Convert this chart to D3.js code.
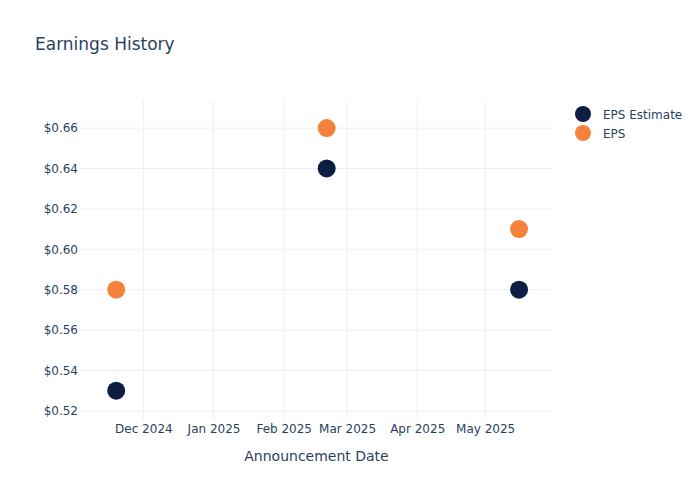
<!DOCTYPE html>
<html>
<head>
<meta charset="utf-8">
<script src="https://cdn.jsdelivr.net/npm/d3@7"></script>
<style>
  body { margin: 0; background: #fff; }
  text { font-family: "DejaVu Sans", Verdana, sans-serif; fill: #2a3f5f; }
</style>
</head>
<body>
<div id="chart"></div>
<script>
// ---------------------------------------------- DATA ----------------------------------------------
var dates = ["2024-11-19", "2025-02-20", "2025-05-16"];
var epsEstimate = [0.53, 0.64, 0.58];
var eps = [0.58, 0.66, 0.61];
var yTicks = [0.52, 0.54, 0.56, 0.58, 0.60, 0.62, 0.64, 0.66];
var xTicks = ["2024-12-01", "2025-01-01", "2025-02-01", "2025-03-01", "2025-04-01", "2025-05-01"];
var seriesNames = ["EPS Estimate", "EPS"];
var seriesColors = ["#0c1f42", "#f5823a"];

// ---------------------------------------------- SVG -----------------------------------------------
var width = 700;
var height = 500;
var margin = { top: 100, right: 147, bottom: 80, left: 80 };

var parse = d3.timeParse("%Y-%m-%d");

var svg = d3.select("#chart").append("svg")
    .attr("width", width)
    .attr("height", height);

var x = d3.scaleTime()
    .domain([parse("2024-11-03"), parse("2025-05-31")])
    .range([margin.left, width - margin.right]);

var y = d3.scaleLinear()
    .domain([0.5155, 0.6739])
    .range([height - margin.bottom, margin.top]);

// grid
svg.append("g")
    .selectAll("line")
    .data(yTicks)
    .enter().append("line")
    .attr("x1", margin.left)
    .attr("x2", width - margin.right)
    .attr("y1", function(d) { return y(d); })
    .attr("y2", function(d) { return y(d); })
    .attr("stroke", "#ebf0f8")
    .attr("stroke-width", 1);

svg.append("g")
    .selectAll("line")
    .data(xTicks)
    .enter().append("line")
    .attr("x1", function(d) { return x(parse(d)); })
    .attr("x2", function(d) { return x(parse(d)); })
    .attr("y1", margin.top)
    .attr("y2", height - margin.bottom)
    .attr("stroke", "#ebf0f8")
    .attr("stroke-width", 1);

// axes
var yAxis = d3.axisLeft(y)
    .tickValues(yTicks)
    .tickSize(0)
    .tickPadding(2)
    .tickFormat(d3.format("$.2f"));

svg.append("g")
    .attr("transform", "translate(" + margin.left + ",0)")
    .call(yAxis)
    .call(function(g) { g.select(".domain").remove(); })
    .selectAll("text")
    .style("font-size", "12px")
    .attr("fill", "#2a3f5f");

var xAxis = d3.axisBottom(x)
    .tickValues(xTicks.map(parse))
    .tickSize(0)
    .tickPadding(4)
    .tickFormat(d3.timeFormat("%b %Y"));

svg.append("g")
    .attr("transform", "translate(0," + (height - margin.bottom) + ")")
    .call(xAxis)
    .call(function(g) { g.select(".domain").remove(); })
    .selectAll("text")
    .style("font-size", "12px")
    .attr("fill", "#2a3f5f");

// titles
svg.append("text")
    .attr("x", 35)
    .attr("y", 50)
    .style("font-size", "17px")
    .text("Earnings History");

svg.append("text")
    .attr("x", (margin.left + width - margin.right) / 2)
    .attr("y", 461)
    .attr("text-anchor", "middle")
    .style("font-size", "14px")
    .text("Announcement Date");

// points
var series = [epsEstimate, eps];

series.forEach(function(values, i) {
    svg.append("g")
        .selectAll("circle")
        .data(values)
        .enter().append("circle")
        .attr("cx", function(d, j) { return x(parse(dates[j])); })
        .attr("cy", function(d) { return y(d); })
        .attr("r", 9)
        .attr("fill", seriesColors[i]);
});

// legend
var legend = svg.append("g")
    .attr("transform", "translate(583,114)");

seriesNames.forEach(function(name, i) {
    legend.append("circle")
        .attr("cx", 0)
        .attr("cy", i * 19)
        .attr("r", 8)
        .attr("fill", seriesColors[i]);
    legend.append("text")
        .attr("x", 20)
        .attr("y", i * 19 + 4.5)
        .style("font-size", "12px")
        .text(name);
});
</script>
</body>
</html>
